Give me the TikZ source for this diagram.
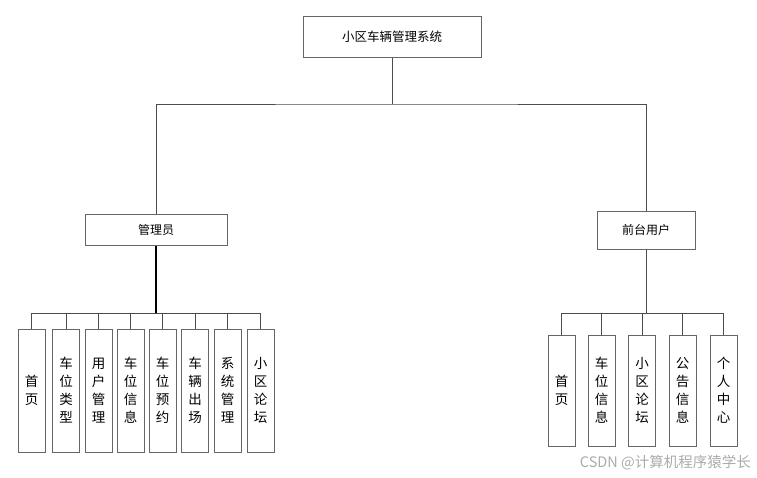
\documentclass[tikz,border=0pt]{standalone}
\usepackage{fontspec}
\setmainfont{Noto Sans CJK SC}
\begin{document}
\begin{tikzpicture}[x=1pt,y=-1pt,
  box/.style={draw=black!60,line width=1pt,fill=white,inner sep=0pt},
  leaf/.style={box,minimum width=27pt,align=center,font=\fontsize{13.5}{18}\selectfont},
  conn/.style={draw=black!70,line width=1pt}]
\useasboundingbox (0,0) rectangle (757,477);
\node[box,minimum width=178pt,minimum height=41pt,font=\fontsize{12.5}{14}\selectfont] (top) at (392,36.5) {小区车辆管理系统};
\node[box,minimum width=142pt,minimum height=31pt,font=\fontsize{12}{14}\selectfont] (admin) at (156,229.5) {管理员};
\node[box,minimum width=98pt,minimum height=38pt,font=\fontsize{12}{14}\selectfont] (user) at (646,230) {前台用户};
\coordinate (bus) at (392,104);
\coordinate (abus) at (156,313);
\coordinate (ubus) at (646,313);
\draw[conn] (top.south) -- (bus);
\draw[conn] (admin.north) |- (bus) -| (user.north);
\draw[conn,draw=black,line width=1.3pt] (admin.south) -- (abus);
\draw[conn] (user.south) -- (ubus);
\foreach \n/\x/\t in {a1/31.5/首\\页, a2/66/车\\位\\类\\型, a3/98.5/用\\户\\管\\理, a4/130.5/车\\位\\信\\息, a5/162.5/车\\位\\预\\约, a6/195/车\\辆\\出\\场, a7/227.5/系\\统\\管\\理, a8/260.5/小\\区\\论\\坛}{
  \node[leaf,minimum height=123pt] (\n) at (\x,390.5) {\t};
  \draw[conn] (abus) -| (\n.north);
}
\foreach \n/\x/\t in {u1/561.5/首\\页, u2/601.5/车\\位\\信\\息, u3/642/小\\区\\论\\坛, u4/682.5/公\\告\\信\\息, u5/723.5/个\\人\\中\\心}{
  \node[leaf,minimum height=111pt] (\n) at (\x,390.5) {\t};
  \draw[conn] (ubus) -| (\n.north);
}
\node[anchor=east,text=black!33,font=\fontsize{14.5}{16}\selectfont,inner sep=0pt] (wm) at (751,463) {CSDN @计算机程序猿学长};
\end{tikzpicture}
\end{document}
